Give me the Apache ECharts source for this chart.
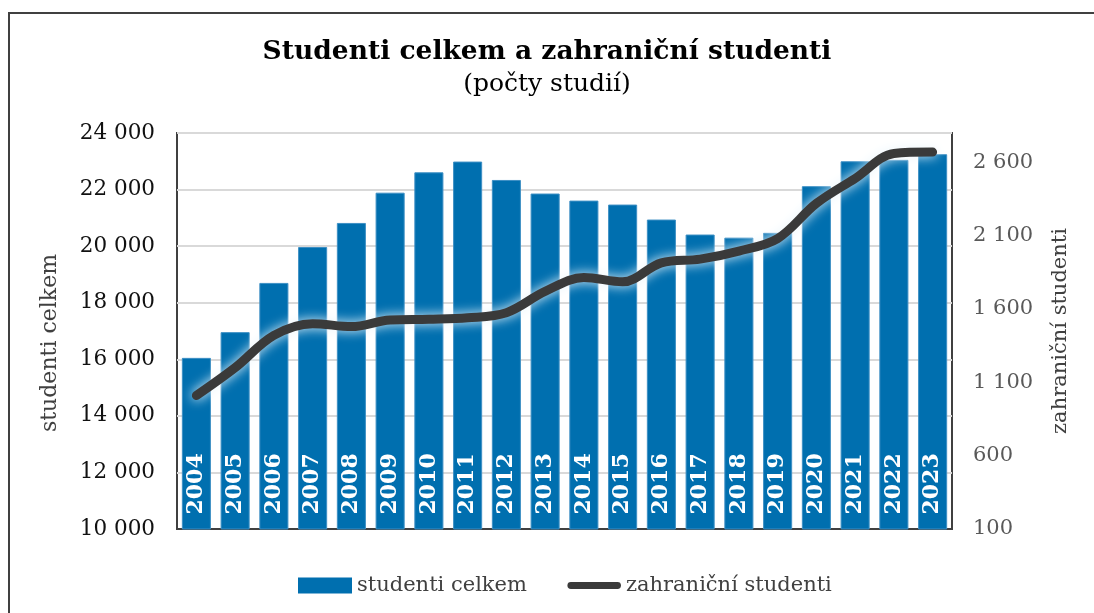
<!DOCTYPE html>
<html>
<head>
<meta charset="utf-8">
<script src="https://cdn.jsdelivr.net/npm/echarts@6/dist/echarts.min.js"></script>
<style>
html,body{margin:0;padding:0;background:#fff;}
#chart{width:1094px;height:613px;}
</style>
</head>
<body>
<div id="chart"></div>
<script>
const years = ['2004','2005','2006','2007','2008','2009','2010','2011','2012','2013','2014','2015','2016','2017','2018','2019','2020','2021','2022','2023'];
const studentiCelkem = [16050,16960,18700,19970,20820,21890,22610,22990,22340,21860,21610,21470,20940,20410,20300,20470,22120,23000,23050,23250];
const zahranicniStudenti = [1010,1200,1420,1500,1480,1525,1530,1540,1575,1720,1815,1785,1915,1940,1995,2080,2320,2490,2660,2670];
const leftTicks = [10000,12000,14000,16000,18000,20000,22000,24000];
const rightTicks = [100,600,1100,1600,2100,2600];

const SERIF = 'DejaVu Serif';
const fmt = v => String(v).replace(/\B(?=(\d{3})+(?!\d))/g, '\u00a0');

const chart = echarts.init(document.getElementById('chart'), null, {renderer:'canvas'});
chart.setOption({
  backgroundColor:'#fff',
  animation:false,
  graphic:[{
    type:'rect', shape:{x:9, y:13, width:1200, height:800},
    style:{fill:'none', stroke:'#404040', lineWidth:2}, silent:true
  }],
  title:{
    text:'Studenti celkem a zahraniční studenti',
    subtext:'(počty studií)',
    left:'center', top:34, itemGap:6,
    textStyle:{fontFamily:SERIF, fontWeight:'bold', fontSize:26.5, color:'#000'},
    subtextStyle:{fontFamily:SERIF, fontSize:25, color:'#000'}
  },
  legend:{
    left:293, top:570,
    itemWidth:54, itemHeight:16, itemGap:40,
    textStyle:{fontFamily:SERIF, fontSize:21, color:'#404040'},
    data:[
      {name:'studenti celkem', icon:'rect', itemStyle:{color:'#006FAF', borderWidth:0}},
      {name:'zahraniční studenti', icon:'path://M0,0M0,16M4,4.5H51A3.5,3.5,0,0,1,51,11.5H4A3.5,3.5,0,0,1,4,4.5Z',
        itemStyle:{color:'#3a3a3a', borderWidth:0}}
    ]
  },
  grid:{
    left:177, right:142, top:133, bottom:84,
    show:true, borderColor:'#404040', borderWidth:2, backgroundColor:'#fff'
  },
  xAxis:{
    type:'category', data:years,
    axisLine:{show:true, lineStyle:{color:'#404040', width:2}},
    axisTick:{show:false}, axisLabel:{show:false}
  },
  yAxis:[{
    type:'value', min:10000, max:24000, interval:2000,
    name:'studenti celkem', nameLocation:'middle', nameGap:116,
    nameTextStyle:{fontFamily:SERIF, fontSize:22, color:'#404040', padding:[0,24,0,0]},
    axisLine:{show:false}, axisTick:{show:false},
    axisLabel:{fontFamily:SERIF, fontSize:21.5, color:'#111', margin:22, formatter:fmt, customValues:leftTicks},
    splitLine:{show:true, lineStyle:{color:'#d9d9d9', width:2}}
  },{
    type:'value', min:100, max:2800, position:'right',
    name:'zahraniční studenti', nameLocation:'middle', nameGap:98,
    nameTextStyle:{fontFamily:SERIF, fontSize:21, color:'#404040'},
    axisLine:{show:false}, axisTick:{show:false},
    axisLabel:{fontFamily:SERIF, fontSize:21, color:'#595959', margin:21, formatter:fmt, customValues:rightTicks},
    splitLine:{show:false}
  }],
  series:[{
    name:'studenti celkem', type:'bar', data:studentiCelkem, yAxisIndex:0,
    barCategoryGap:'25%',
    itemStyle:{color:'#006FAF', borderColor:'#3d8fc4', borderWidth:1},
    label:{
      show:true, position:'insideBottom', rotate:90, align:'left', verticalAlign:'middle',
      distance:15, formatter:p => p.name,
      fontFamily:SERIF, fontWeight:'bold', fontSize:22, color:'#fff'
    }
  },{
    name:'zahraniční studenti', type:'line', data:zahranicniStudenti, yAxisIndex:1,
    smooth:0.35, symbol:'none',
    itemStyle:{color:'#3a3a3a'},
    lineStyle:{color:'#3a3a3a', width:9, cap:'round', join:'round',
      shadowColor:'rgba(235,246,252,1)', shadowBlur:12}
  }]
});
</script>
</body>
</html>
